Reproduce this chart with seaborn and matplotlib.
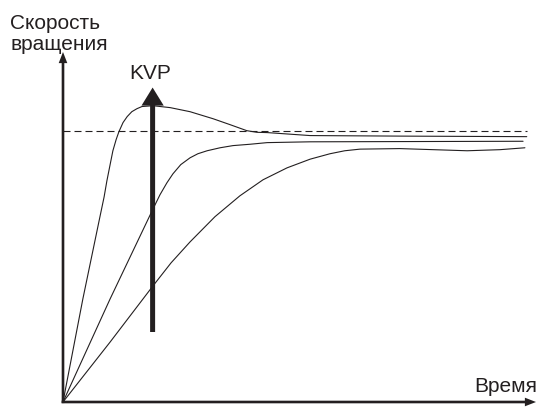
import pandas as pd
import matplotlib
matplotlib.use("Agg")
import matplotlib.pyplot as plt
import seaborn as sns

# time (arbitrary units) and speed (setpoint = 1.0)
fast_t = [0, 0.43, 0.80, 0.89, 0.95, 1.02, 1.08, 1.15, 1.21, 1.30, 1.39, 1.49, 1.60, 1.71, 1.95,
          2.32, 2.75, 3.25, 3.62, 3.98, 4.20, 4.42, 5.35, 7.29, 10.04]
fast_v = [0, 0.380, 0.683, 0.756, 0.815, 0.875, 0.926, 0.967, 0.996, 1.030, 1.052, 1.070, 1.081, 1.089, 1.092,
          1.085, 1.070, 1.044, 1.022, 1.000, 0.994, 0.993, 0.982, 0.980, 0.978]

mid_t = [0, 1.02, 1.93, 2.10, 2.25, 2.38, 2.55, 2.75, 2.92, 3.12, 3.40, 3.68, 4.05, 4.42, 5.35, 9.96]
mid_v = [0, 0.380, 0.705, 0.764, 0.808, 0.841, 0.875, 0.900, 0.915, 0.926, 0.937, 0.945, 0.950, 0.956, 0.959, 0.961]

slow_t = [0, 1.02, 1.93, 2.34, 2.75, 3.29, 3.83, 4.33, 4.85, 5.35, 5.78, 6.10, 6.43, 7.29, 8.75, 9.46, 10.0]
slow_v = [0, 0.221, 0.424, 0.513, 0.590, 0.683, 0.760, 0.819, 0.863, 0.895, 0.915, 0.926, 0.932, 0.934, 0.926,
          0.930, 0.937]

setpoint_t = [0, 10.04]
setpoint_v = [1.0, 1.0]

kvp_t = 1.94
kvp_v = [0.258, 1.159]

y_label = "Скорость\nвращения"
x_label = "Время"
arrow_label = "KVP"

XMAX = 10.24
YMAX = 1.29
INK = "#231f20"

sns.set_style("white")
plt.rcParams["font.family"] = ["Liberation Sans", "DejaVu Sans"]

curves = pd.concat([
    pd.DataFrame({"t": fast_t, "v": fast_v, "curve": "fast"}),
    pd.DataFrame({"t": mid_t, "v": mid_v, "curve": "mid"}),
    pd.DataFrame({"t": slow_t, "v": slow_v, "curve": "slow"}),
])
setpoint = pd.DataFrame({"t": setpoint_t, "v": setpoint_v})

fig = plt.figure(figsize=(5.38, 4.10), dpi=100)
ax = fig.add_axes([63 / 538, 7 / 410, 473 / 538, 350 / 410])

sns.lineplot(data=curves, x="t", y="v", units="curve", estimator=None,
             color=INK, lw=0.8, ax=ax)
sns.lineplot(data=setpoint, x="t", y="v", color=INK, lw=0.8,
             linestyle=(0, (6.3, 3.6)), ax=ax)

ax.set_xlim(0, XMAX)
ax.set_ylim(0, YMAX)
ax.set_xticks([])
ax.set_yticks([])
ax.set_xlabel("")
ax.set_ylabel("")
for s in ax.spines.values():
    s.set_visible(False)

# axes drawn as arrows
axis_style = "simple,head_length=0.8,head_width=0.62,tail_width=0.19"
ax.annotate("", xy=(XMAX, 0), xytext=(-0.03, 0), annotation_clip=False,
            arrowprops=dict(arrowstyle=axis_style, mutation_scale=10, lw=0,
                            color=INK, shrinkA=0, shrinkB=0))
ax.annotate("", xy=(0, YMAX), xytext=(0, -0.004), annotation_clip=False,
            arrowprops=dict(arrowstyle=axis_style, mutation_scale=10, lw=0,
                            color=INK, shrinkA=0, shrinkB=0))

# KVP gain arrow
ax.annotate("", xy=(kvp_t, kvp_v[1]), xytext=(kvp_t, kvp_v[0]), zorder=5,
            annotation_clip=False,
            arrowprops=dict(arrowstyle="simple,head_length=1.3,head_width=1.6,tail_width=0.36",
                            mutation_scale=10, lw=0, color=INK, shrinkA=0, shrinkB=0))

fig.text(10 / 538, 1 - 50 / 410, y_label, fontsize=15, color=INK,
         ha="left", va="baseline", linespacing=1.12)
fig.text(150 / 538, 1 - 79 / 410, arrow_label, fontsize=15, color=INK,
         ha="center", va="baseline")
fig.text(537 / 538, 1 - 392 / 410, x_label, fontsize=15, color=INK,
         ha="right", va="baseline")

fig.savefig("out.png", dpi=100)
